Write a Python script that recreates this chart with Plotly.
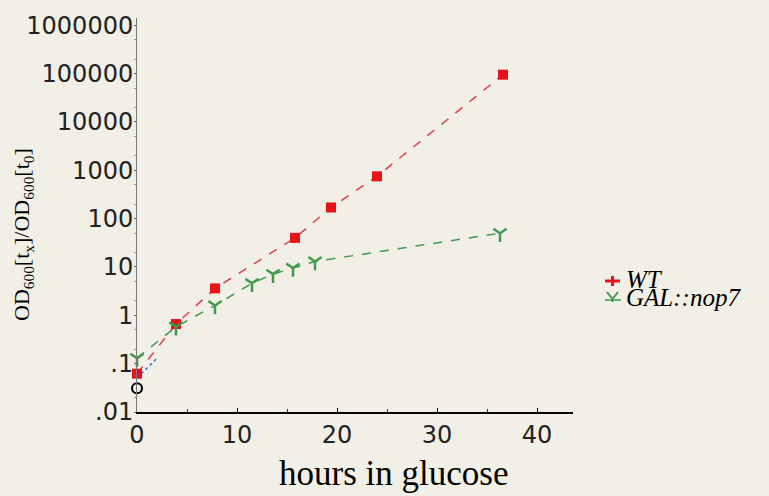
import plotly.graph_objects as go

# Data
wt_hours = [0, 3.9, 7.8, 15.8, 19.4, 24, 36.6]
wt_ratio = [0.062, 0.66, 3.6, 40, 170, 750, 95000]

nop7_hours = [0, 3.9, 7.8, 11.5, 13.6, 15.6, 17.8, 36.3]
nop7_ratio = [0.13, 0.58, 1.6, 4.6, 7.1, 9.5, 13, 50]

extra_hours = [0, 2]
extra_ratio = [0.05, 0.13]

open_hours = [0]
open_ratio = [0.031]

legend_names = ["<i>WT</i>", "<i>GAL::nop7</i>"]

y_tickvals = [0.01, 0.1, 1, 10, 100, 1000, 10000, 100000, 1000000]
y_ticktext = [".01", ".1", "1", "10", "100", "1000", "10000", "100000", "1000000"]
x_tickvals = [0, 10, 20, 30, 40]

BG = "#f1efe6"
RED = "#e8121b"
GREEN = "#3f9a4c"

L, R, T, B = 137, 196, 18, 84
W, H = 769, 496
PW, PH = W - L - R, H - T - B


def px(x):
    return (x - L) / PW


def py(y):
    return (H - B - y) / PH


fig = go.Figure()

fig.add_trace(go.Scatter(
    x=extra_hours, y=extra_ratio, mode="lines",
    line=dict(color="#2f6fd0", width=1.5, dash="dot"),
    showlegend=False, cliponaxis=False, hoverinfo="skip"))

fig.add_trace(go.Scatter(
    x=open_hours, y=open_ratio, mode="markers",
    marker=dict(symbol="circle-open", size=10, color="black", line=dict(width=2)),
    showlegend=False, cliponaxis=False, hoverinfo="skip"))

fig.add_trace(go.Scatter(
    x=wt_hours, y=wt_ratio, mode="lines+markers", name="WT",
    line=dict(color="#e0404c", width=1.5, dash="dash"),
    marker=dict(symbol="square", size=10, color=RED),
    cliponaxis=False, showlegend=False))

fig.add_trace(go.Scatter(
    x=nop7_hours, y=nop7_ratio, mode="lines+markers", name="GAL::nop7",
    line=dict(color=GREEN, width=1.5, dash="dash"),
    marker=dict(symbol="y-down-open", size=11, color=GREEN, line=dict(width=2.5, color=GREEN)),
    cliponaxis=False, showlegend=False))

# legend drawn as annotations + small shapes (tight spacing as in the reference)
shapes = [
    dict(type="line", xref="paper", yref="paper", x0=px(605), x1=px(620), y0=py(281), y1=py(281),
         line=dict(color=RED, width=3)),
    dict(type="line", xref="paper", yref="paper", x0=px(612.5), x1=px(612.5), y0=py(276), y1=py(286),
         line=dict(color=RED, width=3)),
    dict(type="line", xref="paper", yref="paper", x0=px(605), x1=px(621), y0=py(300), y1=py(300),
         line=dict(color=GREEN, width=1.5)),
    dict(type="path", xref="paper", yref="paper",
         path=f"M {px(607)},{py(292)} L {px(612.5)},{py(299)} L {px(618)},{py(292)} "
              f"M {px(612.5)},{py(299)} L {px(612.5)},{py(302)}",
         line=dict(color=GREEN, width=2)),
]

annotations = [
    dict(text=legend_names[0], xref="paper", yref="paper", x=px(624), y=py(279),
         xanchor="left", yanchor="middle", showarrow=False,
         font=dict(size=25, family="Liberation Serif", color="black")),
    dict(text=legend_names[1], xref="paper", yref="paper", x=px(624), y=py(297),
         xanchor="left", yanchor="middle", showarrow=False,
         font=dict(size=25, family="Liberation Serif", color="black")),
    dict(text="hours in glucose", xref="paper", yref="paper", x=px(393), y=py(474),
         xanchor="center", yanchor="middle", showarrow=False,
         font=dict(size=35, family="Liberation Serif", color="black")),
    dict(text="OD<sub>600</sub>[t<sub>x</sub>]/OD<sub>600</sub>[t<sub>0</sub>]",
         xref="paper", yref="paper", x=px(23), y=py(235), textangle=-90,
         xanchor="center", yanchor="middle", showarrow=False,
         font=dict(size=22, family="Liberation Serif", color="black")),
]

fig.update_layout(
    width=W, height=H,
    paper_bgcolor=BG, plot_bgcolor=BG,
    margin=dict(l=L, r=R, t=T, b=B),
    font=dict(family="DejaVu Sans", color="black"),
    shapes=shapes, annotations=annotations,
    showlegend=False,
)

fig.update_xaxes(
    range=[0, 43.6], tickvals=x_tickvals, showgrid=False, zeroline=False,
    showline=True, linecolor="black", linewidth=2,
    ticks="inside", ticklen=4, tickcolor="black",
    minor=dict(ticks="inside", ticklen=3, dtick=5, tickcolor="#333", showgrid=False),
    tickfont=dict(size=24, family="DejaVu Sans", color="#222"),
    automargin=False,
)

fig.update_yaxes(
    type="log", range=[-2, 6.15], tickvals=y_tickvals, ticktext=y_ticktext,
    showgrid=False, zeroline=False,
    showline=True, linecolor="#777", linewidth=1,
    ticks="outside", ticklen=2, tickcolor="#666",
    minor=dict(ticks="outside", ticklen=2, tickcolor="#999", showgrid=False),
    tickfont=dict(size=24, family="DejaVu Sans", color="#222"),
    ticklabelstandoff=-4,
    automargin=False,
)

fig.write_html(
    "out.html",
    config={"displayModeBar": False},
    post_script="document.body.style.margin='0';document.body.style.background='%s';" % BG,
)
